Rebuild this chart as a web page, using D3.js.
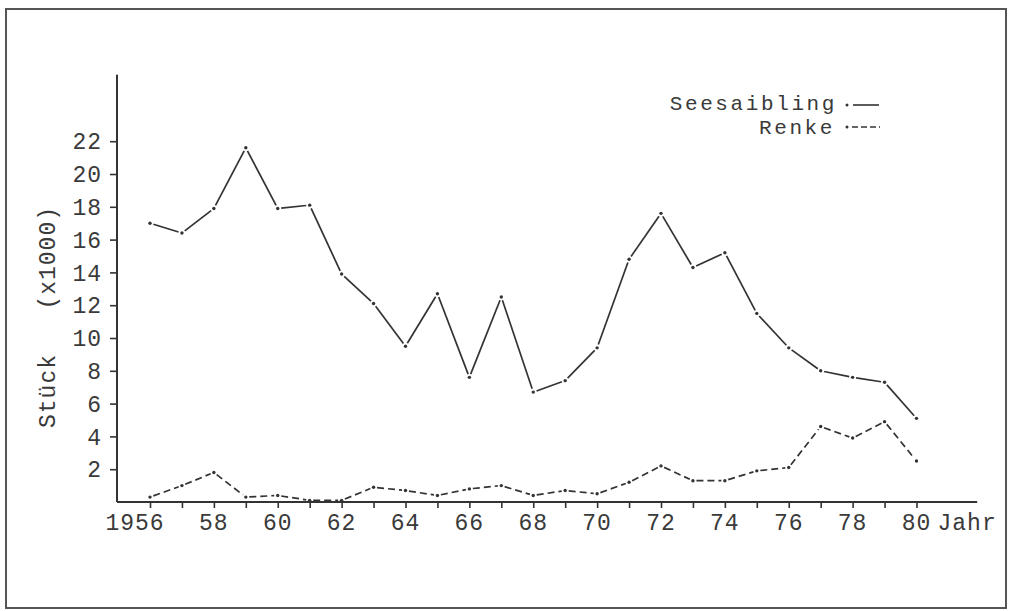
<!DOCTYPE html>
<html><head><meta charset="utf-8">
<script src="https://cdn.jsdelivr.net/npm/d3@7"></script>
<style>
html,body{margin:0;padding:0;background:#fff;}
text{font-family:"Liberation Mono","DejaVu Sans Mono",monospace;fill:#3a3a3a;}
</style></head>
<body><svg id="c" width="1010" height="611"></svg>
<script>
const years = d3.range(1956, 1981);
const seesaibling = [17.0,16.4,17.9,21.6,17.9,18.1,13.9,12.1,9.5,12.7,7.6,12.5,6.7,7.4,9.4,14.8,17.6,14.3,15.2,11.5,9.4,8.0,7.6,7.3,5.1];
const renke = [0.3,1.0,1.8,0.3,0.4,0.1,0.1,0.9,0.7,0.4,0.8,1.0,0.4,0.7,0.5,1.2,2.2,1.3,1.3,1.9,2.1,4.6,3.9,4.9,2.5];
const yTicks = [2,4,6,8,10,12,14,16,18,20,22];
const xLabelYears = [1956,1958,1960,1962,1964,1966,1968,1970,1972,1974,1976,1978,1980];
const xLabels = ["1956","58","60","62","64","66","68","70","72","74","76","78","80"];
const seriesNames = ["Seesaibling","Renke"];
const yTitle = "Stück   (x1000)";
const xTitle = "Jahr";

const svg = d3.select("#c");
const ink = "#333";
const x = d3.scaleLinear().domain([1956,1980]).range([150,916.5]);
const y = d3.scaleLinear().domain([0,22]).range([502,141.2]);

// frame
svg.append("rect").attr("x",6).attr("y",9).attr("width",1000).attr("height",599)
  .attr("fill","none").attr("stroke","#555").attr("stroke-width",2);

// axes lines
const x0 = 117;
svg.append("line").attr("x1",x0).attr("x2",x0).attr("y1",y(26.05)).attr("y2",y(0))
  .attr("stroke",ink).attr("stroke-width",2);
svg.append("line").attr("x1",x0).attr("x2",x(1981.9)).attr("y1",y(0)).attr("y2",y(0))
  .attr("stroke",ink).attr("stroke-width",2);

// x axis ticks
const xa = svg.append("g").attr("transform",`translate(0,${y(0)})`)
  .call(d3.axisBottom(x).tickValues(years).tickSize(6).tickFormat(""));
xa.select(".domain").remove();
xa.selectAll(".tick line").attr("stroke",ink).attr("stroke-width",1.6);

// x labels
svg.append("g").selectAll("text").data(xLabelYears).join("text")
  .attr("x",(d,i)=> i===0 ? x(d)-15 : x(d))
  .attr("y",y(0)+28)
  .attr("text-anchor","middle")
  .attr("font-size",23).attr("letter-spacing",1)
  .text((d,i)=>xLabels[i]);
svg.append("text").attr("x",x(1980)+21).attr("y",y(0)+28)
  .attr("font-size",23).attr("letter-spacing",1).text(xTitle);

// y axis ticks
const ya = svg.append("g").attr("transform",`translate(${x0},0)`)
  .call(d3.axisLeft(y).tickValues(yTicks).tickSize(7).tickFormat(""));
ya.select(".domain").remove();
ya.selectAll(".tick line").attr("stroke",ink).attr("stroke-width",1.6);
svg.append("g").selectAll("text").data(yTicks).join("text")
  .attr("x",102).attr("y",d=>y(d)).attr("dy","0.36em")
  .attr("text-anchor","end").attr("font-size",23).attr("letter-spacing",1)
  .text(d=>d);

// y title
svg.append("text").attr("transform","translate(55,317) rotate(-90)")
  .attr("text-anchor","middle").attr("font-size",23).attr("letter-spacing",1)
  .style("white-space","pre").text(yTitle);

// series drawing
function drawSeries(vals, dash){
  const pts = years.map((yr,i)=>[x(yr), y(vals[i])]);
  const g = svg.append("g");
  for(let i=0;i<pts.length-1;i++){
    const [ax,ay]=pts[i],[bx,by]=pts[i+1];
    const dx=bx-ax, dy=by-ay, L=Math.hypot(dx,dy), gap=3.5;
    g.append("line")
      .attr("x1",ax+dx/L*gap).attr("y1",ay+dy/L*gap)
      .attr("x2",bx-dx/L*gap).attr("y2",by-dy/L*gap)
      .attr("stroke",ink).attr("stroke-width",1.7)
      .attr("stroke-dasharray",dash);
  }
  g.selectAll("circle").data(pts).join("circle")
    .attr("cx",d=>d[0]).attr("cy",d=>d[1]).attr("r",1.7).attr("fill",ink);
}
drawSeries(seesaibling, null);
drawSeries(renke, "7,4");

// legend
const lg = svg.append("g");
lg.append("text").attr("x",837).attr("y",110).attr("text-anchor","end")
  .attr("font-size",21).attr("letter-spacing",2.6).text(seriesNames[0]);
lg.append("text").attr("x",835).attr("y",134).attr("text-anchor","end")
  .attr("font-size",21).attr("letter-spacing",2.6).text(seriesNames[1]);
lg.append("circle").attr("cx",847).attr("cy",105).attr("r",1.5).attr("fill",ink);
lg.append("line").attr("x1",853).attr("x2",879).attr("y1",105).attr("y2",105)
  .attr("stroke",ink).attr("stroke-width",1.6);
lg.append("circle").attr("cx",847).attr("cy",127).attr("r",1.5).attr("fill",ink);
lg.append("line").attr("x1",852).attr("x2",880).attr("y1",127).attr("y2",127)
  .attr("stroke",ink).attr("stroke-width",1.6).attr("stroke-dasharray","6,3");
</script></body></html>
